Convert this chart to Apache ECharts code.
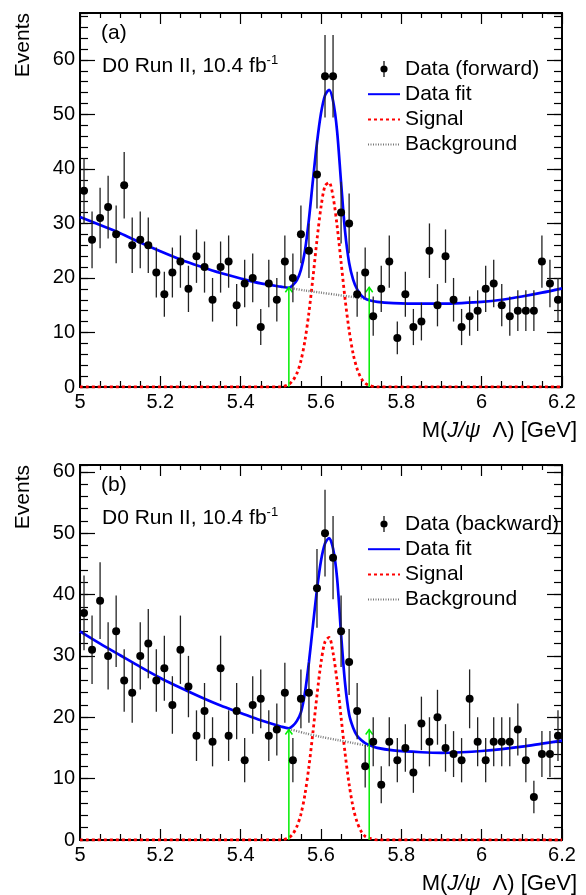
<!DOCTYPE html>
<html>
<head>
<meta charset="utf-8">
<script src="https://cdn.jsdelivr.net/npm/echarts@6/dist/echarts.min.js"></script>
<style>
html, body { margin: 0; padding: 0; background: #fff; }
#chart { width: 586px; height: 895px; }
</style>
</head>
<body>
<div id="chart"></div>
<script>
// Histogram binning of M(J/psi Lambda): 60 bins of 20 MeV from 5.0 to 6.2 GeV
const massLow = 5.0;
const binWidth = 0.02;

// Event counts per bin
const countsForward = [36, 27, 31, 33, 28, 37, 26, 27, 26, 21, 17, 21, 23, 18, 24, 22, 16, 22, 23, 15,
                       19, 20, 11, 19, 16, 23, 20, 28, 25, 39, 57, 57, 32, 30, 17, 21, 13, 18, 23, 9,
                       17, 11, 12, 25, 15, 24, 16, 11, 13, 14, 18, 19, 15, 13, 14, 14, 14, 23, 19, 16];
const countsBackward = [37, 31, 39, 30, 34, 26, 24, 30, 32, 26, 28, 22, 31, 25, 17, 21, 16, 28, 17, 21,
                        13, 22, 23, 17, 18, 24, 13, 23, 24, 41, 50, 46, 34, 29, 21, 12, 16, 9, 16, 13,
                        15, 11, 19, 16, 20, 15, 14, 13, 23, 16, 13, 16, 16, 16, 18, 13, 7, 14, 14, 17];

// Total fit curve (signal + background)
const fitMass = [5.00, 5.05, 5.10, 5.15, 5.20, 5.25, 5.30, 5.35, 5.40, 5.45, 5.50, 5.52, 5.53, 5.54,
                 5.55, 5.56, 5.57, 5.58, 5.59, 5.60, 5.61, 5.62, 5.63, 5.64, 5.65, 5.66, 5.67, 5.68,
                 5.69, 5.70, 5.71, 5.72, 5.74, 5.78, 5.85, 5.90, 5.95, 6.00, 6.05, 6.10, 6.15, 6.20];
const fitForward = [31.2, 29.7, 28.2, 26.5, 24.9, 23.4, 22.1, 20.9, 19.9, 19.0, 18.4, 18.2, 18.7, 19.6,
                    21.5, 25.0, 30.8, 38.0, 44.8, 50.2, 53.5, 54.5, 52.5, 47.0, 37.5, 28.5, 22.8, 19.7,
                    17.9, 16.8, 16.2, 15.9, 15.6, 15.4, 15.3, 15.3, 15.4, 15.6, 16.0, 16.6, 17.3, 18.1];
const fitBackward = [34.0, 32.0, 30.1, 28.2, 26.4, 24.8, 23.3, 21.9, 20.7, 19.5, 18.5, 18.2, 18.6, 19.4,
                     20.8, 24.0, 29.0, 35.0, 40.8, 45.5, 48.3, 49.2, 47.5, 42.7, 33.5, 25.5, 20.5, 18.3,
                     17.0, 16.3, 15.8, 15.5, 15.0, 14.6, 14.3, 14.2, 14.3, 14.5, 14.8, 15.2, 15.7, 16.2];

// Signal component
const signalMass = [5.00, 5.50, 5.52, 5.53, 5.54, 5.55, 5.56, 5.57, 5.58, 5.59, 5.60, 5.61, 5.62,
                    5.63, 5.64, 5.65, 5.66, 5.67, 5.68, 5.69, 5.70, 5.71, 5.72, 5.74, 6.20];
const signalForward = [0, 0, 0.5, 1.2, 2.5, 4.8, 8.5, 13.7, 20.1, 27.0, 33.0, 36.9, 37.5,
                       34.9, 29.6, 22.9, 16.1, 10.4, 6.1, 3.3, 1.6, 0.7, 0.3, 0, 0];
const signalBackward = [0, 0, 0.4, 1.0, 2.2, 4.2, 7.4, 12.0, 17.6, 23.6, 28.9, 32.3, 33.0,
                        30.5, 25.9, 20.0, 14.1, 9.1, 5.3, 2.9, 1.4, 0.6, 0.3, 0, 0];

// Background component under the signal window
const bkgMass = [5.52, 5.56, 5.60, 5.64, 5.68, 5.72];
const bkgForward = [18.2, 17.7, 17.3, 16.9, 16.5, 16.1];
const bkgBackward = [18.1, 17.4, 16.8, 16.3, 15.8, 15.3];

// Signal window edges and arrow heights
const windowEdges = [5.52, 5.72];
const arrowTopForward = 18.3;
const arrowTopBackward = 18.0;

// Axis tick values
const massTicks = [5, 5.2, 5.4, 5.6, 5.8, 6, 6.2];
const eventsTicks = [0, 10, 20, 30, 40, 50, 60];
const yMaxForward = 68.6;
const yMaxBackward = 61.1;

const FONT = '"Liberation Sans", Arial, Helvetica, sans-serif';
const BLACK = '#000';

function zip(xs, ys) { return xs.map((x, i) => [x, ys[i]]); }
function binned(counts) {
  return counts.map((n, i) => [massLow + binWidth * (i + 0.5), n, Math.sqrt(n)]);
}

function renderPoint(params, api) {
  const x = api.value(0), y = api.value(1), e = api.value(2);
  const hi = api.coord([x, y + e]);
  const lo = api.coord([x, y - e]);
  const c = api.coord([x, y]);
  return {
    type: 'group',
    children: [
      { type: 'line', shape: { x1: hi[0], y1: hi[1], x2: lo[0], y2: lo[1] },
        style: { stroke: '#222', lineWidth: 1.3 } },
      { type: 'circle', shape: { cx: c[0], cy: c[1], r: 4 }, style: { fill: BLACK } }
    ]
  };
}

function renderArrow(params, api) {
  const base = api.coord([api.value(0), 0]);
  const tip = api.coord([api.value(0), api.value(1)]);
  return {
    type: 'group',
    children: [
      { type: 'line', shape: { x1: base[0], y1: base[1], x2: tip[0], y2: tip[1] },
        style: { stroke: '#00ee00', lineWidth: 1.5 } },
      { type: 'polyline', shape: { points: [[tip[0] - 3.5, tip[1] + 5], [tip[0], tip[1]], [tip[0] + 3.5, tip[1] + 5]] },
        style: { stroke: '#00ee00', lineWidth: 1.5, fill: null } }
    ]
  };
}

const pointIcon = 'path://M4.4,0 L5.6,0 L5.6,16 L4.4,16 Z M8.6,8 A3.6,3.6 0 1 1 1.4,8 A3.6,3.6 0 1 1 8.6,8 Z';
const noMarker = { opacity: 0 };

const panels = [
  { top: 13, height: 374, yMax: yMaxForward, counts: countsForward, fit: fitForward,
    signal: signalForward, bkg: bkgForward, arrowTop: arrowTopForward,
    dataName: 'Data (forward)', tag: '(a)', legendTop: 52 },
  { top: 465, height: 375, yMax: yMaxBackward, counts: countsBackward, fit: fitBackward,
    signal: signalBackward, bkg: bkgBackward, arrowTop: arrowTopBackward,
    dataName: 'Data (backward)', tag: '(b)', legendTop: 507 }
];

const grid = [], xAxis = [], yAxis = [], series = [], legend = [], graphic = [];
const axisLine = { show: true, onZero: false, lineStyle: { color: BLACK, width: 1.8 } };
const tickStyle = { color: BLACK, width: 1.2 };
const labelStyle = { color: BLACK, fontSize: 20, fontFamily: FONT };

panels.forEach((p, g) => {
  grid.push({ left: 80, top: p.top, width: 482, height: p.height,
              containLabel: false, outerBoundsMode: 'none', show: false });

  const xBase = { gridIndex: g, type: 'value', min: massTicks[0], max: massTicks[massTicks.length - 1],
                  interval: 0.2, splitLine: { show: false }, axisLine: axisLine };
  xAxis.push(Object.assign({}, xBase, {
    position: 'bottom',
    axisTick: { show: true, inside: true, length: 11, lineStyle: tickStyle },
    minorTick: { show: true, splitNumber: 4, length: 6, lineStyle: tickStyle },
    axisLabel: Object.assign({ margin: 5, formatter: v => String(+v.toFixed(1)) }, labelStyle)
  }));
  xAxis.push(Object.assign({}, xBase, {
    position: 'top',
    axisTick: { show: true, inside: true, length: 11, lineStyle: tickStyle },
    minorTick: { show: true, splitNumber: 4, length: 5, lineStyle: tickStyle },
    axisLabel: { show: false }
  }));

  const yBase = { gridIndex: g, type: 'value', min: eventsTicks[0], max: p.yMax,
                  splitLine: { show: false }, axisLine: axisLine };
  yAxis.push(Object.assign({}, yBase, {
    position: 'left', interval: 10,
    axisTick: { show: true, inside: true, length: 15, lineStyle: tickStyle },
    axisLabel: Object.assign({ margin: 5, showMaxLabel: false,
      formatter: v => (eventsTicks.indexOf(Math.round(v)) >= 0 && Math.abs(v - Math.round(v)) < 1e-6) ? String(Math.round(v)) : '' }, labelStyle)
  }));
  yAxis.push(Object.assign({}, yBase, {
    position: 'left', interval: 2,
    axisTick: { show: true, inside: true, length: 8, lineStyle: tickStyle },
    axisLabel: { show: false }
  }));
  yAxis.push(Object.assign({}, yBase, {
    position: 'right', interval: 10,
    axisTick: { show: true, inside: true, length: 15, lineStyle: tickStyle },
    axisLabel: { show: false }
  }));
  yAxis.push(Object.assign({}, yBase, {
    position: 'right', interval: 2,
    axisTick: { show: true, inside: true, length: 8, lineStyle: tickStyle },
    axisLabel: { show: false }
  }));

  const xi = g * 2, yi = g * 4;
  series.push({
    name: 'Signal', type: 'line', xAxisIndex: xi, yAxisIndex: yi,
    data: zip(signalMass, p.signal), smooth: 0.3, symbol: 'none', z: 2,
    lineStyle: { color: '#ff0000', width: 2.8, type: [3, 3] }, itemStyle: { color: '#ff0000' }
  });
  series.push({
    name: 'Background', type: 'line', xAxisIndex: xi, yAxisIndex: yi,
    data: zip(bkgMass, p.bkg), smooth: 0.3, symbol: 'none', z: 2,
    lineStyle: { color: '#777', width: 2.4, type: [1, 1.5] }, itemStyle: { color: '#777' }
  });
  series.push({
    name: 'Data fit', type: 'line', xAxisIndex: xi, yAxisIndex: yi,
    data: zip(fitMass, p.fit), smooth: 0.3, symbol: 'none', z: 3,
    lineStyle: { color: '#0000ff', width: 2.7 }, itemStyle: { color: '#0000ff' }
  });
  series.push({
    type: 'custom', xAxisIndex: xi, yAxisIndex: yi, z: 4,
    data: windowEdges.map(x => [x, p.arrowTop]), renderItem: renderArrow, silent: true
  });
  series.push({
    name: p.dataName, type: 'custom', xAxisIndex: xi, yAxisIndex: yi, z: 5,
    data: binned(p.counts), renderItem: renderPoint, itemStyle: { color: BLACK },
    encode: { x: 0, y: 1 }
  });

  legend.push({
    left: 362, top: p.legendTop, orient: 'vertical', selectedMode: false,
    itemWidth: 32, itemHeight: 16, itemGap: 1.2,
    textStyle: { color: BLACK, fontSize: 21, fontFamily: FONT, lineHeight: 24 },
    data: [
      { name: p.dataName, icon: pointIcon },
      { name: 'Data fit', itemStyle: noMarker },
      { name: 'Signal', itemStyle: noMarker },
      { name: 'Background', itemStyle: noMarker }
    ]
  });

  graphic.push({
    type: 'text', x: 101, y: p.top + 20, silent: true,
    style: { text: p.tag, font: '21px ' + FONT, fill: BLACK, textVerticalAlign: 'middle', verticalAlign: 'middle' }
  });
  graphic.push({
    type: 'text', x: 102, y: p.top + 53, silent: true,
    style: {
      text: '{n|D0 Run II, 10.4 fb}{s|-1}', fill: BLACK, textVerticalAlign: 'middle', verticalAlign: 'middle',
      rich: {
        n: { fontSize: 21, fontFamily: FONT, lineHeight: 24, fill: BLACK },
        s: { fontSize: 13, fontFamily: FONT, lineHeight: 13, verticalAlign: 'top', fill: BLACK }
      }
    }
  });
  graphic.push({
    type: 'text', x: 23, y: p.top, rotation: Math.PI / 2, silent: true,
    style: { text: 'Events', font: '21px ' + FONT, fill: BLACK,
             textAlign: 'right', align: 'right', textVerticalAlign: 'middle', verticalAlign: 'middle' }
  });
  graphic.push({
    type: 'text', x: 577, y: p.top + p.height + 44, silent: true,
    style: {
      text: '{r|M(}{i|J/ψ}{r|  Λ) [GeV]}', textAlign: 'right', align: 'right',
      textVerticalAlign: 'middle', verticalAlign: 'middle',
      rich: {
        r: { fontSize: 22, fontFamily: FONT, fill: BLACK },
        i: { fontSize: 22, fontFamily: FONT, fontStyle: 'italic', fill: BLACK }
      }
    }
  });
});

const chart = echarts.init(document.getElementById('chart'), null, { renderer: 'canvas' });
chart.setOption({
  backgroundColor: '#fff',
  animation: false,
  grid, xAxis, yAxis, series, legend, graphic
});
</script>
</body>
</html>
